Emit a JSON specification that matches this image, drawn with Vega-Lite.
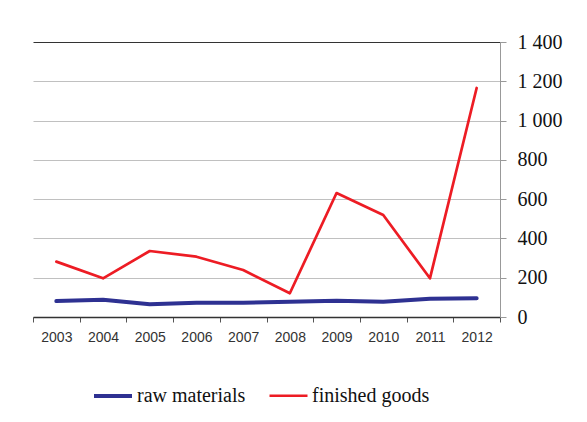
{
  "$schema": "https://vega.github.io/schema/vega-lite/v6.json",
  "width": 467,
  "height": 275,
  "autosize": "none",
  "padding": {"left": 33, "top": 42, "right": 87, "bottom": 105},
  "background": "white",
  "config": {"view": {"stroke": null}},
  "data": {
    "values": [
      {"year": "2003", "series": "raw materials", "value": 81},
      {"year": "2004", "series": "raw materials", "value": 88},
      {"year": "2005", "series": "raw materials", "value": 65},
      {"year": "2006", "series": "raw materials", "value": 73},
      {"year": "2007", "series": "raw materials", "value": 73},
      {"year": "2008", "series": "raw materials", "value": 78},
      {"year": "2009", "series": "raw materials", "value": 83},
      {"year": "2010", "series": "raw materials", "value": 78},
      {"year": "2011", "series": "raw materials", "value": 93},
      {"year": "2012", "series": "raw materials", "value": 95},
      {"year": "2003", "series": "finished goods", "value": 282},
      {"year": "2004", "series": "finished goods", "value": 197},
      {"year": "2005", "series": "finished goods", "value": 336},
      {"year": "2006", "series": "finished goods", "value": 307},
      {"year": "2007", "series": "finished goods", "value": 239},
      {"year": "2008", "series": "finished goods", "value": 121},
      {"year": "2009", "series": "finished goods", "value": 631},
      {"year": "2010", "series": "finished goods", "value": 519},
      {"year": "2011", "series": "finished goods", "value": 197},
      {"year": "2012", "series": "finished goods", "value": 1166}
    ]
  },
  "mark": {"type": "line", "strokeCap": "round", "strokeJoin": "round"},
  "encoding": {
    "x": {
      "field": "year",
      "type": "ordinal",
      "scale": {"type": "band", "paddingInner": 0, "paddingOuter": 0},
      "axis": {
        "title": null,
        "labelAngle": 0,
        "labelFont": "Liberation Sans",
        "labelFontSize": 14,
        "labelColor": "#333333",
        "labelPadding": 8,
        "tickBand": "extent",
        "tickSize": 5,
        "tickColor": "#555555",
        "domainColor": "#333333",
        "domainWidth": 1.5,
        "grid": false
      }
    },
    "y": {
      "field": "value",
      "type": "quantitative",
      "scale": {"domain": [0, 1400], "nice": false},
      "axis": {
        "orient": "right",
        "title": null,
        "values": [0, 200, 400, 600, 800, 1000, 1200, 1400],
        "labelExpr": "replace(format(datum.value, ','), ',', ' ')",
        "labelFont": "Liberation Serif",
        "labelFontSize": 20,
        "labelColor": "#111111",
        "labelPadding": 11,
        "tickSize": 6,
        "tickColor": "#999999",
        "domainColor": "#999999",
        "grid": true,
        "gridColor": {"condition": {"test": "datum.value == 1400", "value": "#333333"}, "value": "#c0c0c0"},
        "gridWidth": 1.2
      }
    },
    "color": {
      "field": "series",
      "type": "nominal",
      "sort": ["raw materials", "finished goods"],
      "scale": {"domain": ["raw materials", "finished goods"], "range": ["#2e3192", "#ed1c24"]},
      "legend": {
        "title": null,
        "orient": "none",
        "legendX": 59,
        "legendY": 333,
        "direction": "horizontal",
        "symbolType": "stroke",
        "symbolSize": 1444,
        "symbolStrokeWidth": 3.5,
        "labelFont": "Liberation Serif",
        "labelFontSize": 20,
        "labelColor": "#111111",
        "labelOffset": 3,
        "columnPadding": 18
      }
    },
    "strokeWidth": {
      "field": "series",
      "type": "nominal",
      "scale": {"domain": ["raw materials", "finished goods"], "range": [4, 2.7]},
      "legend": null
    }
  }
}
